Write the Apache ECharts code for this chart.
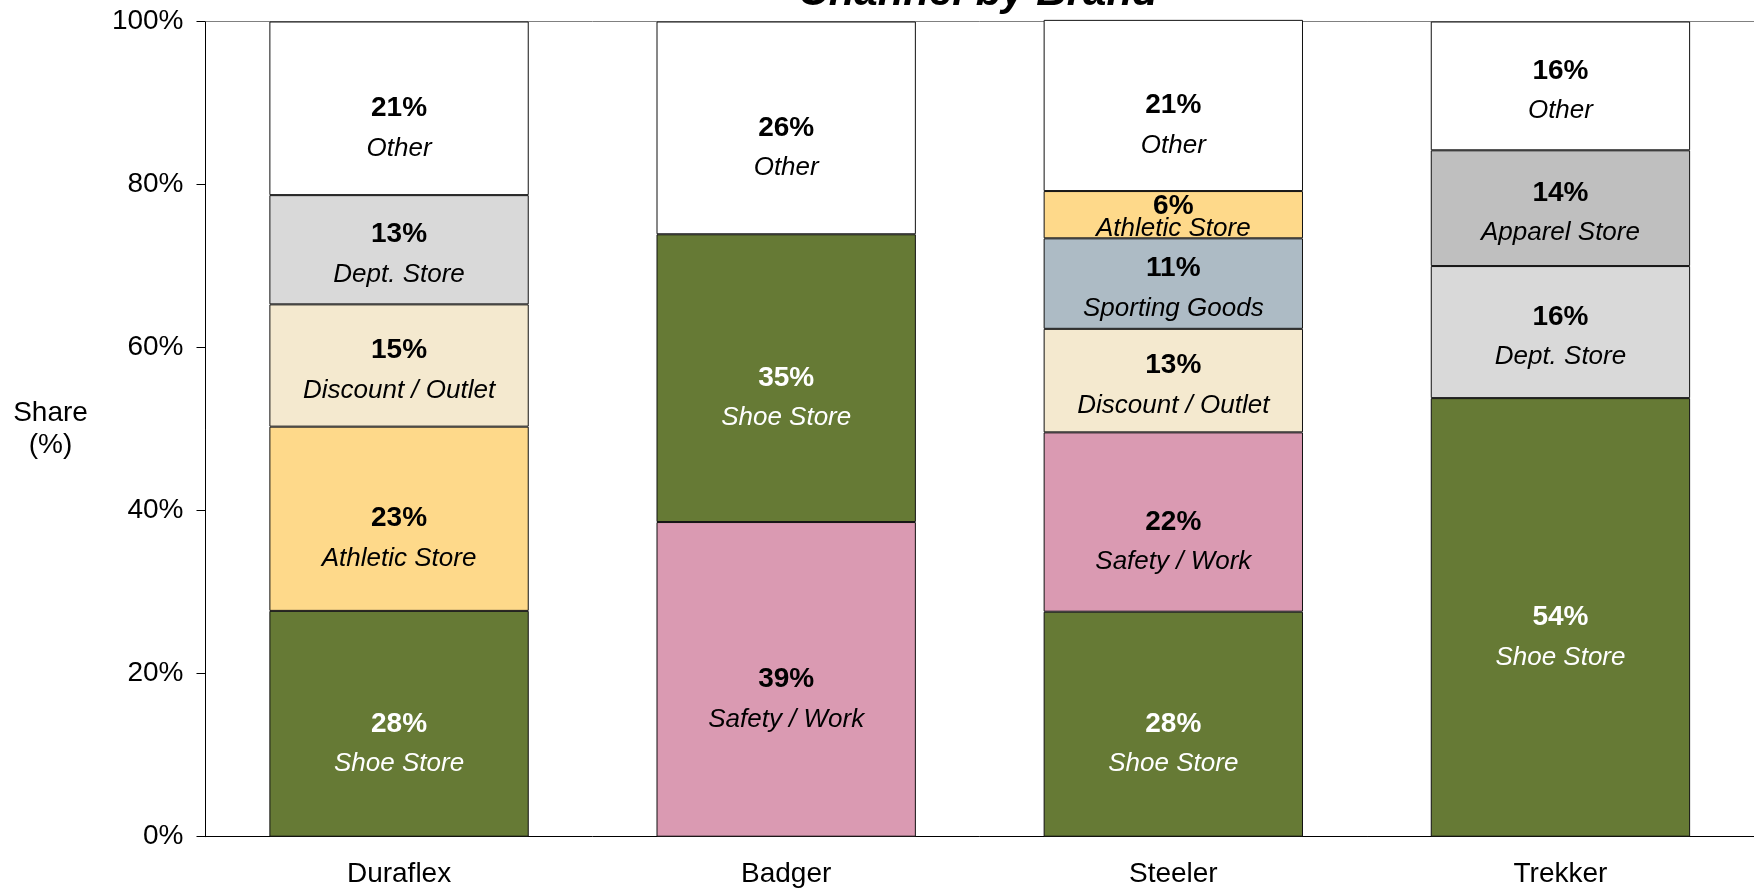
<!DOCTYPE html>
<html>
<head>
<meta charset="utf-8">
<script src="https://cdn.jsdelivr.net/npm/echarts@6/dist/echarts.min.js"></script>
<style>
html,body{margin:0;padding:0;background:#fff;}
#chart{width:1754px;height:894px;}
</style>
</head>
<body>
<div id="chart"></div>
<script>
// ---- data ----
const brands = ['Duraflex', 'Badger', 'Steeler', 'Trekker'];
const duraflexChannels = ['Shoe Store', 'Athletic Store', 'Discount / Outlet', 'Dept. Store', 'Other'];
const duraflexShares   = [27.7, 22.6, 15.0, 13.4, 21.3];
const badgerChannels   = ['Safety / Work', 'Shoe Store', 'Other'];
const badgerShares     = [38.6, 35.3, 26.1];
const steelerChannels  = ['Shoe Store', 'Safety / Work', 'Discount / Outlet', 'Sporting Goods', 'Athletic Store', 'Other'];
const steelerShares    = [27.6, 22.0, 12.7, 11.1, 5.8, 21.0];
const trekkerChannels  = ['Shoe Store', 'Dept. Store', 'Apparel Store', 'Other'];
const trekkerShares    = [53.8, 16.2, 14.2, 15.8];
const yTickValues = [0, 20, 40, 60, 80, 100];
const titleText = 'Channel by Brand';
const yAxisTitle = 'Share\n(%)';

// ---- styles ----
const channelColors = {
  'Shoe Store': '#667A35',
  'Athletic Store': '#FED98A',
  'Discount / Outlet': '#F4E9CF',
  'Dept. Store': '#D9D9D9',
  'Other': '#FFFFFF',
  'Safety / Work': '#DA9AB2',
  'Sporting Goods': '#ADBBC5',
  'Apparel Store': '#BFBFBF'
};
const darkChannels = ['Shoe Store'];
const FONT = '"Liberation Sans", Arial, sans-serif';

const stacks = [
  [duraflexChannels, duraflexShares],
  [badgerChannels, badgerShares],
  [steelerChannels, steelerShares],
  [trekkerChannels, trekkerShares]
];
const maxLevels = Math.max.apply(null, stacks.map(s => s[0].length));

const series = [];
for (let lvl = 0; lvl < maxLevels; lvl++) {
  const data = stacks.map(([chs, vals]) => {
    if (lvl >= chs.length) return '-';
    const ch = chs[lvl], v = vals[lvl];
    const small = v < 8;
    const lh = small ? 22 : 40;
    const dy = v >= 20 ? 20 : (small ? 3 : 5);
    const col = darkChannels.indexOf(ch) >= 0 ? '#FFFFFF' : '#000000';
    return {
      value: v,
      channel: ch,
      itemStyle: { color: channelColors[ch] },
      label: {
        offset: [0, dy],
        rich: {
          b: { fontSize: 28, fontWeight: 'bold', fontFamily: FONT, color: col, lineHeight: lh, align: 'center' },
          i: { fontSize: 26, fontStyle: 'italic', fontFamily: FONT, color: col, lineHeight: lh, align: 'center' }
        }
      }
    };
  });
  series.push({
    type: 'bar',
    name: 'level' + (lvl + 1),
    stack: 'total',
    barWidth: '67%',
    clip: false,
    data: data,
    itemStyle: { borderColor: '#111111', borderWidth: 1 },
    label: {
      show: true,
      position: 'inside',
      formatter: p => '{b|' + Math.round(p.value) + '%}\n{i|' + p.data.channel + '}'
    },
    emphasis: { disabled: true },
    animation: false
  });
}

const chart = echarts.init(document.getElementById('chart'), null, { renderer: 'canvas' });
chart.setOption({
  backgroundColor: '#ffffff',
  animation: false,
  title: {
    text: titleText,
    left: 973,
    textAlign: 'center',
    top: -33,
    textStyle: { fontFamily: FONT, fontSize: 42, fontWeight: 'bold', fontStyle: 'italic', color: '#000' }
  },
  grid: { left: 205.5, top: 21.5, width: 1554, height: 815.2 },
  xAxis: [{
    type: 'category',
    data: brands,
    position: 'bottom',
    axisLine: { lineStyle: { color: '#000', width: 1 } },
    axisTick: { show: false },
    axisLabel: { fontFamily: FONT, fontSize: 28, color: '#000', margin: 24 }
  }, {
    type: 'category',
    data: brands,
    position: 'top',
    axisLine: { lineStyle: { color: '#808080', width: 1 } },
    axisTick: { show: false },
    axisLabel: { show: false }
  }],
  yAxis: {
    type: 'value',
    min: yTickValues[0],
    max: yTickValues[yTickValues.length - 1],
    interval: yTickValues[1] - yTickValues[0],
    name: yAxisTitle,
    nameLocation: 'middle',
    nameRotate: 0,
    nameGap: 155,
    nameTextStyle: { fontFamily: FONT, fontSize: 28, color: '#000', align: 'center', verticalAlign: 'middle', lineHeight: 32 },
    axisLine: { show: true, lineStyle: { color: '#000', width: 1 } },
    axisTick: { show: true, inside: false, length: 9, lineStyle: { color: '#000' } },
    splitLine: { show: false },
    axisLabel: { fontFamily: FONT, fontSize: 28, color: '#000', margin: 22, formatter: '{value}%' }
  },
  series: series
});
</script>
</body>
</html>
